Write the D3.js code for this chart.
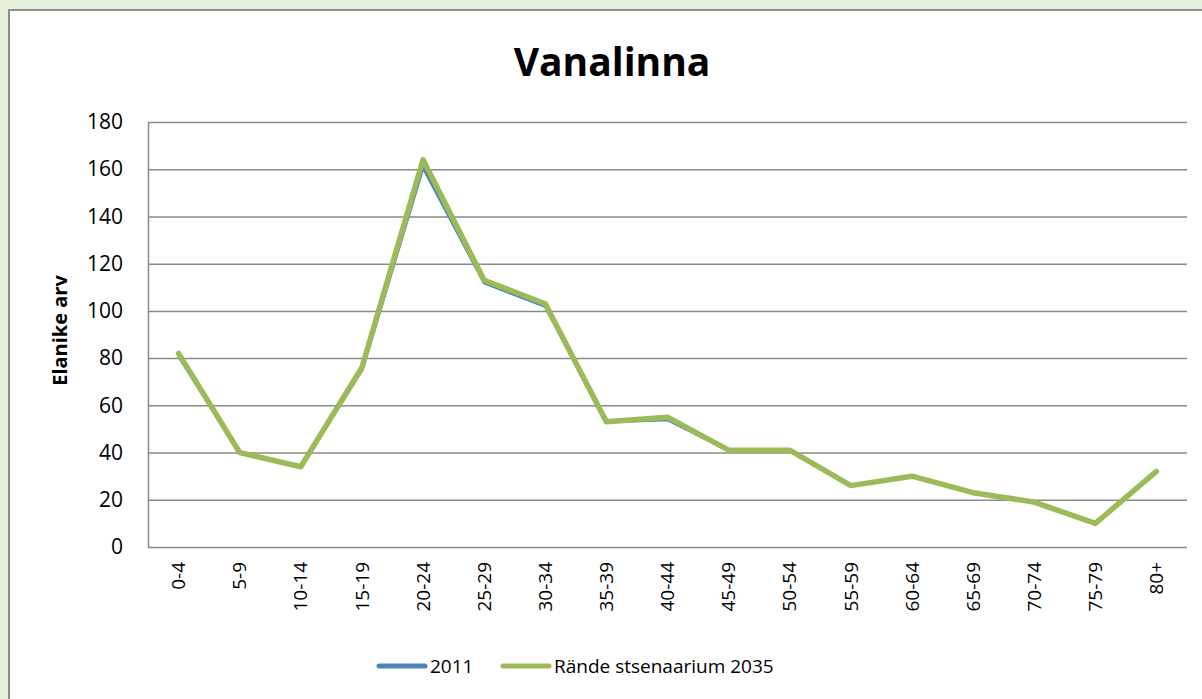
<!DOCTYPE html>
<html>
<head>
<meta charset="utf-8">
<script src="https://cdn.jsdelivr.net/npm/d3@7"></script>
<style>
  body { margin: 0; background: #e4f0db; }
  svg { display: block; font-family: "Open Sans", "Noto Sans", sans-serif; }
</style>
</head>
<body>
<div class="chart"></div>
<script>
// age groups and series
var ageGroups = ["0-4", "5-9", "10-14", "15-19", "20-24", "25-29", "30-34", "35-39", "40-44",
  "45-49", "50-54", "55-59", "60-64", "65-69", "70-74", "75-79", "80+"];
var values2011 = [81, 40, 34, 75, 161, 112, 102, 53, 54, 41, 41, 26, 30, 23, 19, 10, 32];
var values2035 = [82, 40, 34, 76, 164, 113, 103, 53, 55, 41, 41, 26, 30, 23, 19, 10, 32];
var yTicks = [0, 20, 40, 60, 80, 100, 120, 140, 160, 180];

var svgWidth = 1202;
var svgHeight = 699;
var margin = { top: 122, right: 15, bottom: 152, left: 148 };
var width = svgWidth - margin.left - margin.right;
var height = svgHeight - margin.top - margin.bottom;

var svg = d3.select(".chart").append("svg")
  .attr("width", svgWidth)
  .attr("height", svgHeight);

// white chart box with grey border on top/left
svg.append("rect")
  .attr("x", 9).attr("y", 10)
  .attr("width", svgWidth).attr("height", svgHeight)
  .attr("fill", "#fff")
  .attr("stroke", "#8c8c8c")
  .attr("stroke-width", 2);

svg.append("text")
  .attr("x", 612).attr("y", 76)
  .attr("text-anchor", "middle")
  .style("font-size", "39px")
  .style("font-weight", "bold")
  .text("Vanalinna");

var chartGroup = svg.append("g")
  .attr("transform", `translate(${margin.left}, ${margin.top})`);

var x = d3.scaleBand().domain(ageGroups).range([0, width]);
var y = d3.scaleLinear().domain([0, 180]).range([height, 0]);

// gridlines
chartGroup.append("g")
  .call(d3.axisLeft(y).tickValues(yTicks).tickSize(-width).tickFormat(""))
  .call(g => g.select(".domain").remove())
  .selectAll("line")
  .attr("stroke", "#8a8a8a")
  .attr("stroke-width", 1.5);

// y axis
var yAxis = chartGroup.append("g")
  .call(d3.axisLeft(y).tickValues(yTicks).tickSize(0).tickPadding(25));
yAxis.select(".domain").attr("stroke", "#8a8a8a").attr("stroke-width", 1.5);
yAxis.selectAll("text")
  .style("font-size", "21px")
  .style("font-family", "Open Sans, sans-serif")
  .attr("fill", "#000");

// x axis
var xAxis = chartGroup.append("g")
  .attr("transform", `translate(0, ${height})`)
  .call(d3.axisBottom(x).tickSize(0));
xAxis.select(".domain").remove();
xAxis.selectAll("text")
  .style("font-size", "19px")
  .style("font-family", "Open Sans, sans-serif")
  .attr("fill", "#000")
  .attr("text-anchor", "end")
  .attr("dy", "0.35em")
  .attr("transform", "translate(0, 15) rotate(-90)")
  .attr("x", 0).attr("y", 0);

// y label
chartGroup.append("text")
  .attr("transform", "rotate(-90)")
  .attr("x", -height / 2 + 4)
  .attr("y", -81)
  .attr("text-anchor", "middle")
  .style("font-size", "20px")
  .style("font-weight", "bold")
  .text("Elanike arv");

var line = d3.line()
  .x((d, i) => x(ageGroups[i]) + x.bandwidth() / 2)
  .y(d => y(d));

chartGroup.append("path")
  .datum(values2011)
  .attr("d", line)
  .attr("fill", "none")
  .attr("stroke", "#4f81bd")
  .attr("stroke-width", 3.5)
  .attr("stroke-linecap", "round")
  .attr("stroke-linejoin", "round");

chartGroup.append("path")
  .datum(values2035)
  .attr("d", line)
  .attr("fill", "none")
  .attr("stroke", "#9bbb59")
  .attr("stroke-width", 5.5)
  .attr("stroke-linecap", "round")
  .attr("stroke-linejoin", "round");

// legend
var legendItems = [
  { name: "2011", color: "#4f81bd", x: 379 },
  { name: "Rände stsenaarium 2035", color: "#9bbb59", x: 503 }
];
var legend = svg.append("g");
legendItems.forEach(function (item) {
  legend.append("line")
    .attr("x1", item.x).attr("x2", item.x + 46)
    .attr("y1", 666).attr("y2", 666)
    .attr("stroke", item.color)
    .attr("stroke-width", 5)
    .attr("stroke-linecap", "round");
  legend.append("text")
    .attr("x", item.x + 51).attr("y", 673)
    .style("font-size", "19px")
    .text(item.name);
});
</script>
</body>
</html>
